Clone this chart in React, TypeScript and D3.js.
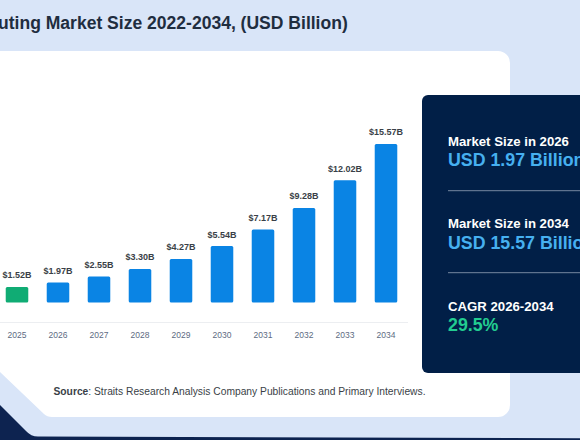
import React from "react";
import * as d3 from "d3";

const years = ["2025", "2026", "2027", "2028", "2029", "2030", "2031", "2032", "2033", "2034"];
const values = [1.52, 1.97, 2.55, 3.3, 4.27, 5.54, 7.17, 9.28, 12.02, 15.57];
const valueLabels = ["$1.52B", "$1.97B", "$2.55B", "$3.30B", "$4.27B", "$5.54B", "$7.17B", "$9.28B", "$12.02B", "$15.57B"];
const highlightYear = "2025";
const font = "'Liberation Sans', Arial, sans-serif";

export default function App() {
  const x = d3.scaleBand<string>().domain(years).range([-3.5, 406.5]).paddingInner(0.45).paddingOuter(0.225);
  const y = d3.scaleLinear().domain([0, 15.57]).range([302.5, 144]);
  return (
    <svg width={580} height={440} viewBox="0 0 580 440" style={{ position: "fixed", left: 0, top: 0, display: "block" }} fontFamily={font}>
      <rect x={0} y={0} width={580} height={440} fill="#d9e5f8" />
      <path d="M-10 51H498a12 12 0 0 1 12 12V405a12 12 0 0 1-12 12H52Q47 417 44 414L0 372H-10Z" fill="#fff" />
      <path d="M0 405L26 431Q31 436.5 38 436.5L580 438.3V440H0Z" fill="#0d2350" />
      <text x={-2} y={28.5} fontSize={17.55} fontWeight={700} fill="#1f2d3f">uting Market Size 2022-2034, (USD Billion)</text>

      <line x1={0} x2={408} y1={322.5} y2={322.5} stroke="#eceef1" />
      {years.map((yr, i) => (
        <g key={yr}>
          <rect x={x(yr)} y={y(values[i])} width={x.bandwidth()} height={y(0) - y(values[i])} rx={1.5} fill={yr === highlightYear ? "#10ac74" : "#0a84e4"} />
          <text x={x(yr)! + x.bandwidth() / 2} y={y(values[i]) - 8.6} textAnchor="middle" fontSize={9} fontWeight={700} fill="#3a3f47">{valueLabels[i]}</text>
          <text x={x(yr)! + x.bandwidth() / 2} y={338} textAnchor="middle" fontSize={8.5} fill="#5d6b82">{yr}</text>
        </g>
      ))}

      <text x={53.5} y={395} fontSize={10.27} fill="#3a3f47"><tspan fontWeight={700}>Source</tspan>: Straits Research Analysis Company Publications and Primary Interviews.</text>

      <rect x={422} y={95} width={180} height={278} rx={6} fill="#011f47" />
      <text x={448} y={146} fontSize={13.2} fontWeight={700} fill="#fff">Market Size in 2026</text>
      <text x={448} y={166.3} fontSize={17.8} fontWeight={700} fill="#46b0f0">USD 1.97 Billion</text>
      <line x1={448} x2={580} y1={190.7} y2={190.7} stroke="#7688a0" />
      <text x={448} y={228.3} fontSize={13.2} fontWeight={700} fill="#fff">Market Size in 2034</text>
      <text x={448} y={248.8} fontSize={17.8} fontWeight={700} fill="#46b0f0">USD 15.57 Billion</text>
      <line x1={448} x2={580} y1={272.7} y2={272.7} stroke="#7688a0" />
      <text x={448} y={310.5} fontSize={13.2} fontWeight={700} fill="#fff">CAGR 2026-2034</text>
      <text x={448} y={331} fontSize={17.8} fontWeight={700} fill="#22cc90">29.5%</text>
    </svg>
  );
}
